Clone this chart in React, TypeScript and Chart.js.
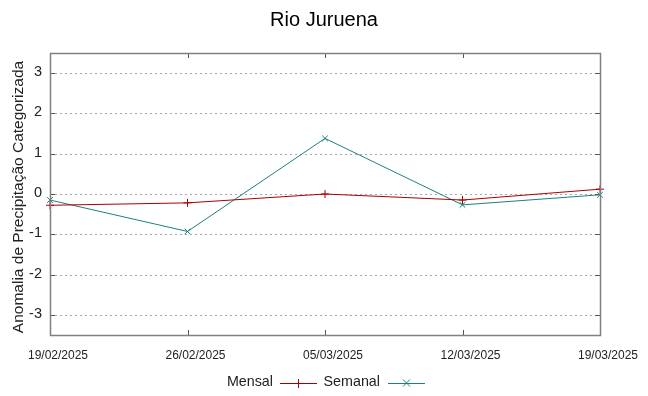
import React, { useEffect, useRef } from "react";
import { Chart, registerables } from "chart.js";

Chart.register(...registerables);

const categories = ["19/02/2025", "26/02/2025", "05/03/2025", "12/03/2025", "19/03/2025"];
const mensal = [-0.28, -0.22, 0.0, -0.15, 0.12];
const semanal = [-0.15, -0.93, 1.38, -0.27, -0.02];
const yTicks = [-3, -2, -1, 0, 1, 2, 3];
const title = "Rio Juruena";
const yTitle = "Anomalia de Precipitação Categorizada";
const seriesNames = ["Mensal", "Semanal"];

const RED = "#a80000";
const TEAL = "#1c8080";
const FONT = "'Liberation Sans', Arial, sans-serif";

const decorPlugin = {
  id: "decor",
  beforeDatasetsDraw(chart: any) {
    const { ctx, chartArea: a, scales } = chart;
    ctx.save();
    // dotted grid
    ctx.strokeStyle = "#a8a8a8";
    ctx.lineWidth = 1;
    ctx.setLineDash([2, 3]);
    for (const v of yTicks) {
      const y = Math.round(scales.y.getPixelForValue(v)) + 0.5;
      ctx.beginPath();
      ctx.moveTo(a.left, y);
      ctx.lineTo(a.right, y);
      ctx.stroke();
    }
    ctx.setLineDash([]);
    // tick marks
    ctx.strokeStyle = "#555";
    for (const v of yTicks) {
      const y = Math.round(scales.y.getPixelForValue(v)) + 0.5;
      ctx.beginPath();
      ctx.moveTo(a.left, y);
      ctx.lineTo(a.left + 5, y);
      ctx.moveTo(a.right, y);
      ctx.lineTo(a.right - 5, y);
      ctx.stroke();
    }
    categories.forEach((_, i) => {
      const x = Math.round(scales.x.getPixelForValue(i)) + 0.5;
      ctx.beginPath();
      ctx.moveTo(x, a.bottom);
      ctx.lineTo(x, a.bottom - 5);
      ctx.moveTo(x, a.top);
      ctx.lineTo(x, a.top + 5);
      ctx.stroke();
    });
    // y labels
    ctx.fillStyle = "#222";
    ctx.font = `14.5px ${FONT}`;
    ctx.textAlign = "right";
    ctx.textBaseline = "middle";
    for (const v of yTicks) {
      ctx.fillText(String(v), 42, scales.y.getPixelForValue(v) - 1);
    }
    // x labels
    ctx.font = `12px ${FONT}`;
    ctx.textAlign = "center";
    categories.forEach((c, i) => {
      const x = scales.x.getPixelForValue(i);
      ctx.fillText(c, x + 8, 356);
    });
    ctx.restore();
  },
  afterDraw(chart: any) {
    const { ctx, chartArea: a } = chart;
    ctx.save();
    // border
    ctx.strokeStyle = "#808080";
    ctx.lineWidth = 1.5;
    ctx.strokeRect(Math.round(a.left) + 0.5, Math.round(a.top) + 0.5, Math.round(a.right - a.left), Math.round(a.bottom - a.top));
    // title
    ctx.fillStyle = "#000";
    ctx.font = `20px ${FONT}`;
    ctx.textAlign = "center";
    ctx.textBaseline = "middle";
    ctx.fillText(title, 324, 20);
    // y title
    ctx.save();
    ctx.translate(19, 197);
    ctx.rotate(-Math.PI / 2);
    ctx.font = `15.5px ${FONT}`;
    ctx.fillStyle = "#222";
    ctx.fillText(yTitle, 0, 0);
    ctx.restore();
    // legend
    ctx.font = `14.3px ${FONT}`;
    ctx.textAlign = "right";
    const ly = 383;
    const items = [
      { name: seriesNames[0], textRight: 273, x0: 280, x1: 317, color: RED, mark: "plus" },
      { name: seriesNames[1], textRight: 380, x0: 388, x1: 425, color: TEAL, mark: "x" },
    ];
    for (const it of items) {
      ctx.fillStyle = "#222";
      ctx.fillText(it.name, it.textRight, ly - 1);
      ctx.strokeStyle = it.color;
      ctx.lineWidth = 1;
      ctx.beginPath();
      ctx.moveTo(it.x0, ly + 0.5);
      ctx.lineTo(it.x1, ly + 0.5);
      const cx = (it.x0 + it.x1) / 2;
      if (it.mark === "plus") {
        ctx.moveTo(cx, ly - 4);
        ctx.lineTo(cx, ly + 5);
      } else {
        ctx.moveTo(cx - 3.5, ly - 3.5);
        ctx.lineTo(cx + 3.5, ly + 3.5);
        ctx.moveTo(cx - 3.5, ly + 3.5);
        ctx.lineTo(cx + 3.5, ly - 3.5);
      }
      ctx.stroke();
    }
    ctx.restore();
  },
};

export default function App() {
  const ref = useRef<HTMLCanvasElement>(null);
  useEffect(() => {
    document.body.style.margin = "0";
    const chart = new Chart(ref.current as HTMLCanvasElement, {
      type: "line",
      data: {
        labels: categories,
        datasets: [
          {
            label: seriesNames[0],
            data: mensal,
            borderColor: RED,
            backgroundColor: RED,
            borderWidth: 1,
            pointStyle: "cross",
            pointRadius: 4,
            pointBorderWidth: 1,
            tension: 0,
          },
          {
            label: seriesNames[1],
            data: semanal,
            borderColor: TEAL,
            backgroundColor: TEAL,
            borderWidth: 1,
            pointStyle: "crossRot",
            pointRadius: 4,
            pointBorderWidth: 1,
            tension: 0,
          },
        ],
      },
      options: {
        animation: false,
        responsive: false,
        layout: { padding: { top: 53, right: 48, left: 0, bottom: 0 } },
        plugins: { legend: { display: false }, title: { display: false }, tooltip: { enabled: false } },
        scales: {
          x: {
            type: "category",
            offset: false,
            grid: { display: false },
            border: { display: false },
            ticks: { display: false },
            afterFit(s: any) {
              s.height = 61;
            },
          },
          y: {
            min: -3.5,
            max: 3.5,
            afterBuildTicks(s: any) {
              s.ticks = yTicks.map((v) => ({ value: v }));
            },
            grid: { display: false },
            border: { display: false },
            ticks: { display: false },
            afterFit(s: any) {
              s.width = 50;
            },
          },
        },
      } as any,
      plugins: [decorPlugin],
    });
    return () => chart.destroy();
  }, []);
  return <canvas ref={ref} width={648} height={396} style={{ display: "block" }} />;
}
